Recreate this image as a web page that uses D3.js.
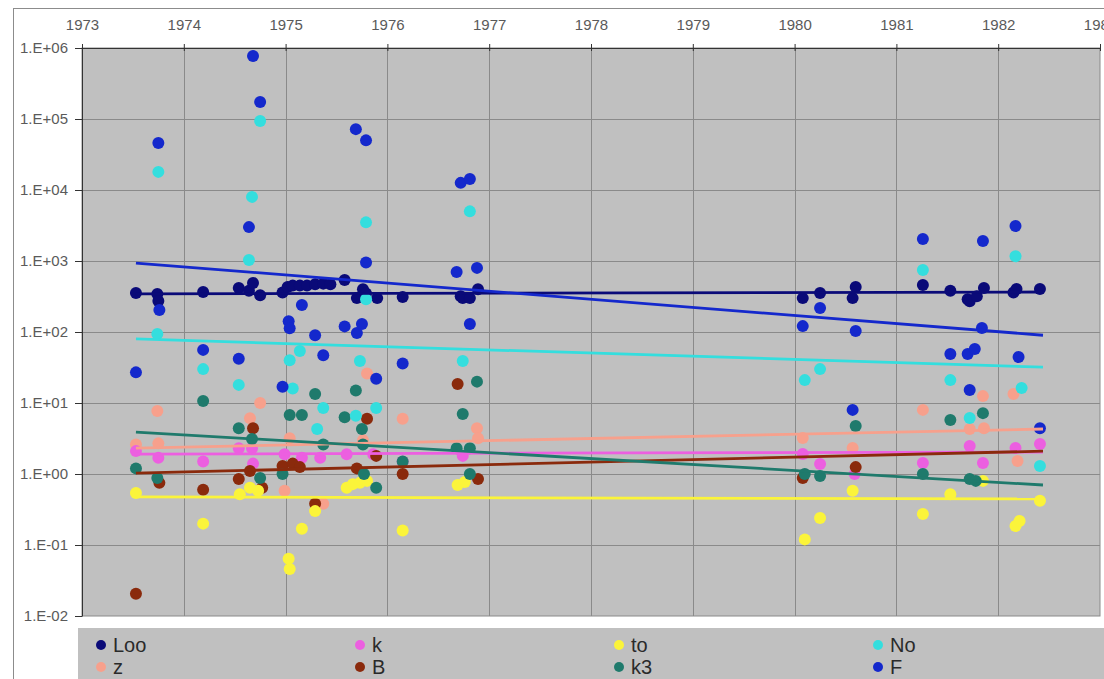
<!DOCTYPE html>
<html><head><meta charset="utf-8">
<script src="https://cdn.jsdelivr.net/npm/d3@7"></script>
<style>
body{margin:0;background:#fff;}
svg{display:block;font-family:"Liberation Sans",Arial,sans-serif;}
</style></head><body>
<svg id="chart" width="1104" height="679"></svg>
<script>
// ---- data ----
const yearTicks = [1973,1974,1975,1976,1977,1978,1979,1980,1981,1982,1983];
const decadeTicks = [1e-2,1e-1,1,1e1,1e2,1e3,1e4,1e5,1e6];
const decadeLabels = ["1.E-02","1.E-01","1.E+00","1.E+01","1.E+02","1.E+03","1.E+04","1.E+05","1.E+06"];
const seriesNames = ["Loo","z","k","B","to","k3","No","F"];
const seriesColors = ["#0a0a78","#f7a08c","#ec5fe0","#8a2a0c","#fbf43a","#1f7a6c","#34dede","#1428cc"];

const looData = [[1973.53,355],[1973.74,344],[1973.75,273],[1974.19,365],[1974.54,417],[1974.64,380],[1974.68,490],[1974.75,330],[1974.97,360],[1975.02,430],[1975.07,450],[1975.14,450],[1975.21,450],[1975.29,470],[1975.37,480],[1975.44,470],[1975.58,540],[1975.70,300],[1975.76,400],[1975.79,350],[1975.90,300],[1976.15,310],[1976.72,320],[1976.74,300],[1976.81,300],[1976.89,400],[1980.08,300],[1980.25,355],[1980.57,300],[1980.60,430],[1981.26,460],[1981.53,380],[1981.70,290],[1981.72,270],[1981.79,320],[1981.86,417],[1982.15,360],[1982.18,403],[1982.41,403]];
const zData = [[1973.53,2.6],[1973.74,7.7],[1973.75,2.7],[1974.65,6.1],[1974.75,10],[1974.99,0.58],[1975.04,3.2],[1975.37,0.38],[1975.76,3.0],[1975.80,26],[1976.15,6],[1976.88,4.4],[1976.89,3.2],[1980.08,3.21],[1980.57,2.32],[1981.26,8.0],[1981.72,4.3],[1981.85,12.5],[1981.86,4.4],[1982.15,13.4],[1982.19,1.52]];
const kData = [[1973.53,2.1],[1973.75,1.7],[1974.19,1.5],[1974.54,2.3],[1974.67,2.3],[1974.68,1.4],[1974.99,1.9],[1975.16,1.7],[1975.34,1.7],[1975.60,1.9],[1975.86,1.9],[1976.15,1.5],[1976.74,1.8],[1980.08,1.91],[1980.25,1.38],[1980.59,1.0],[1981.26,1.43],[1981.72,2.48],[1981.85,1.43],[1982.17,2.32],[1982.41,2.64]];
const bData = [[1973.53,0.0205],[1973.76,0.75],[1974.19,0.6],[1974.54,0.85],[1974.65,1.1],[1974.68,4.4],[1974.77,0.64],[1974.97,1.3],[1975.07,1.4],[1975.14,1.25],[1975.29,0.38],[1975.70,1.2],[1975.80,6],[1975.89,1.8],[1976.15,1.0],[1976.69,18.5],[1976.89,0.85],[1980.08,0.878],[1980.60,1.25]];
const toData = [[1973.53,0.54],[1974.19,0.2],[1974.55,0.52],[1974.65,0.64],[1974.73,0.58],[1975.03,0.064],[1975.04,0.046],[1975.16,0.17],[1975.29,0.30],[1975.60,0.64],[1975.66,0.72],[1975.73,0.75],[1975.80,0.8],[1976.15,0.16],[1976.69,0.70],[1976.76,0.77],[1980.10,0.12],[1980.25,0.24],[1980.57,0.58],[1981.26,0.273],[1981.53,0.52],[1981.85,0.8],[1982.17,0.185],[1982.21,0.218],[1982.41,0.42]];
const k3Data = [[1973.53,1.2],[1973.74,0.88],[1974.19,10.7],[1974.54,4.4],[1974.67,3.1],[1974.75,0.88],[1974.97,1.0],[1975.04,6.8],[1975.16,6.8],[1975.29,13.4],[1975.37,2.6],[1975.58,6.3],[1975.69,15],[1975.75,4.3],[1975.76,2.6],[1975.77,1.0],[1975.89,0.64],[1976.15,1.5],[1976.68,2.3],[1976.74,7],[1976.81,2.3],[1976.81,1.0],[1976.88,20],[1980.10,1.0],[1980.25,0.937],[1980.60,4.74],[1981.26,1.0],[1981.53,5.76],[1981.72,0.85],[1981.78,0.8],[1981.85,7.2]];
const noData = [[1973.74,94],[1973.75,18000],[1974.19,30],[1974.54,18],[1974.64,1030],[1974.67,8000],[1974.75,94000],[1975.04,40],[1975.07,16],[1975.14,54],[1975.31,4.3],[1975.37,8.5],[1975.69,6.6],[1975.73,39],[1975.79,3500],[1975.79,290],[1975.89,8.5],[1976.74,39],[1976.81,5000],[1980.10,21],[1980.25,30],[1981.26,746],[1981.53,21],[1981.72,6.15],[1982.17,1170],[1982.23,16.3],[1982.41,1.3]];
const fData = [[1973.53,27],[1973.75,46000],[1973.76,204],[1974.19,56],[1974.54,42],[1974.64,3000],[1974.68,770000],[1974.75,174000],[1974.97,17],[1975.03,142],[1975.04,113],[1975.16,240],[1975.29,90],[1975.37,47],[1975.58,120],[1975.69,72000],[1975.70,97],[1975.75,130],[1975.79,50000],[1975.79,950],[1975.89,22],[1976.15,36],[1976.68,700],[1976.72,12600],[1976.81,14300],[1976.81,130],[1976.88,800],[1980.08,121],[1980.25,218],[1980.57,8.0],[1980.60,103],[1981.26,2040],[1981.53,49],[1981.70,49],[1981.72,15.2],[1981.77,57.6],[1981.84,114],[1981.85,1910],[1982.17,3110],[1982.20,44.5],[1982.41,4.4]];

// exponential trend lines: value at first and last date
const trendSpan = [1973.53, 1982.44];
const trendStart = [344, 2.32, 1.91, 1.03, 0.475, 3.9, 80, 935];
const trendEnd   = [366, 4.3, 2.04, 2.1, 0.445, 0.70, 32, 90];

const allSeries = [looData, zData, kData, bData, toData, k3Data, noData, fData];

// ---- drawing ----
const svg = d3.select("#chart");
const x = d3.scaleLinear().domain([1973,1983]).range([82,1100]);
const y = d3.scaleLog().domain([0.01,1e6]).range([616,48]);
const [x0,x1] = x.range(), [yB,yT] = y.range();

// outer chart frame
svg.append("rect").attr("x",13.5).attr("y",8.5).attr("width",1110).attr("height",700)
  .attr("fill","#fff").attr("stroke","#8c8c8c");

// plot area
svg.append("rect").attr("x",x0).attr("y",yT).attr("width",x1-x0).attr("height",yB-yT)
  .attr("fill","#c0c0c0").attr("stroke","#8a8a8a");

// gridlines
const grid = svg.append("g").attr("stroke","#8a8a8a").attr("stroke-width",1);
grid.selectAll(".v").data(yearTicks.slice(1,-1)).join("line")
  .attr("x1",d=>Math.round(x(d))+0.5).attr("x2",d=>Math.round(x(d))+0.5)
  .attr("y1",yT).attr("y2",yB);
grid.selectAll(".h").data(decadeTicks.slice(1,-1)).join("line")
  .attr("y1",d=>Math.round(y(d))+0.5).attr("y2",d=>Math.round(y(d))+0.5)
  .attr("x1",x0).attr("x2",x1);

// top axis
const gx = svg.append("g").attr("transform",`translate(0,${yT})`)
  .call(d3.axisTop(x).tickValues(yearTicks).tickFormat(d3.format("d")).tickSizeInner(4).tickSizeOuter(0).tickPadding(14));
gx.select(".domain").attr("stroke","#333");
gx.selectAll(".tick line").attr("stroke","#333").attr("y1",3).attr("y2",-4);
gx.selectAll("text").attr("fill","#5a5a5a").attr("font-size",15).attr("font-family","'Liberation Sans',Arial,sans-serif");

// left axis
const gy = svg.append("g").attr("transform",`translate(${x0},0)`)
  .call(d3.axisLeft(y).tickValues(decadeTicks).tickFormat((d,i)=>decadeLabels[i]).tickSizeInner(7).tickSizeOuter(0).tickPadding(7));
gy.select(".domain").attr("stroke","#333");
gy.selectAll(".tick line").attr("stroke","#333");
gy.selectAll("text").attr("fill","#5a5a5a").attr("font-size",15).attr("font-family","'Liberation Sans',Arial,sans-serif");

// points
const plot = svg.append("g");
allSeries.forEach((data,si)=>{
  plot.append("g").attr("fill",seriesColors[si])
    .selectAll("circle").data(data).join("circle")
    .attr("cx",d=>x(d[0])).attr("cy",d=>y(d[1])).attr("r",6);
});

// trend lines
const line = d3.line().x(d=>x(d[0])).y(d=>y(d[1]));
seriesNames.forEach((n,si)=>{
  plot.append("path")
    .attr("d",line([[trendSpan[0],trendStart[si]],[trendSpan[1],trendEnd[si]]]))
    .attr("fill","none").attr("stroke",seriesColors[si]).attr("stroke-width",2.8);
});

// legend
const leg = svg.append("g");
leg.append("rect").attr("x",78).attr("y",628).attr("width",1040).attr("height",60).attr("fill","#c0c0c0");
const item = leg.selectAll(".it").data(seriesNames).join("g")
  .attr("transform",(d,i)=>`translate(${101+Math.floor(i/2)*259},${i%2===0?645:667})`);
item.append("circle").attr("r",5).attr("fill",(d,i)=>seriesColors[i]);
item.append("text").attr("x",12).attr("dy","0.36em").attr("font-size",20)
  .attr("fill","#2a2a2a").text(d=>d);
</script>
</body></html>
